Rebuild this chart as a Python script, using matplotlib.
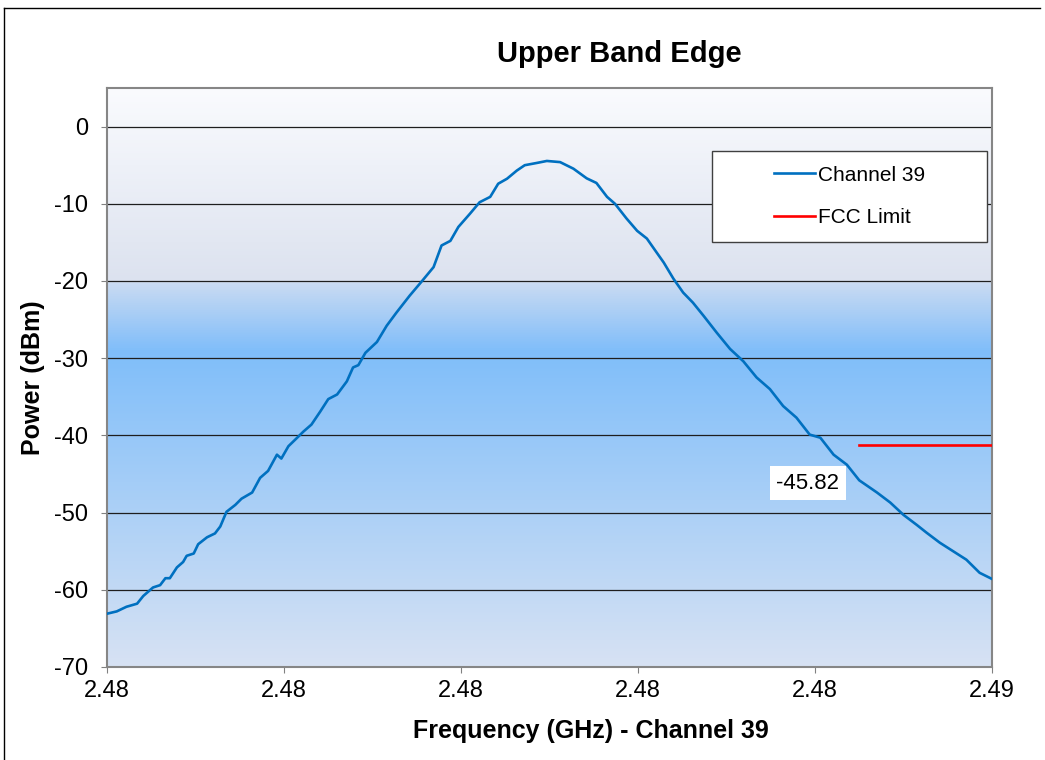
import numpy as np
import matplotlib
matplotlib.use("Agg")
import matplotlib.pyplot as plt
from matplotlib.colors import LinearSegmentedColormap
from matplotlib.patches import Rectangle
from matplotlib.lines import Line2D

plt.rcParams['font.family'] = ['Liberation Sans', 'DejaVu Sans']
plt.rcParams['axes.unicode_minus'] = False

# spectrum trace (GHz, dBm)
freq_ghz = [2.47500, 2.47511, 2.47522, 2.47534, 2.47541, 2.47552, 2.47560, 2.47566,
            2.47571, 2.47579, 2.47586, 2.47590, 2.47598, 2.47603, 2.47613, 2.47622,
            2.47628, 2.47635, 2.47645, 2.47652, 2.47664, 2.47673, 2.47682, 2.47692,
            2.47697, 2.47705, 2.47714, 2.47722, 2.47731, 2.47741, 2.47750, 2.47760,
            2.47771, 2.47778, 2.47784, 2.47792, 2.47805, 2.47816, 2.47827, 2.47842,
            2.47856, 2.47869, 2.47878, 2.47888, 2.47897, 2.47910, 2.47921, 2.47933,
            2.47942, 2.47952, 2.47963, 2.47972, 2.47986, 2.47997, 2.48012, 2.48027,
            2.48042, 2.48053, 2.48065, 2.48074, 2.48087, 2.48099, 2.48110, 2.48121,
            2.48129, 2.48140, 2.48151, 2.48162, 2.48174, 2.48189, 2.48204, 2.48219,
            2.48234, 2.48249, 2.48264, 2.48279, 2.48294, 2.48306, 2.48321, 2.48336,
            2.48350, 2.48370, 2.48385, 2.48400, 2.48415, 2.48426, 2.48441, 2.48456,
            2.48471, 2.48486, 2.48500]
power_dbm = [-63.1, -62.8, -62.2, -61.8, -60.8, -59.7, -59.4, -58.5,
             -58.5, -57.1, -56.4, -55.6, -55.3, -54.1, -53.2, -52.7,
             -51.8, -49.9, -49.0, -48.2, -47.4, -45.5, -44.6, -42.5,
             -43.0, -41.4, -40.4, -39.5, -38.6, -36.9, -35.3, -34.7,
             -33.0, -31.2, -30.9, -29.3, -27.9, -25.8, -24.1, -21.9,
             -20.0, -18.2, -15.4, -14.8, -13.0, -11.3, -9.8, -9.1,
             -7.4, -6.75, -5.7, -5.0, -4.7, -4.45, -4.6, -5.45,
             -6.7, -7.3, -9.1, -10.0, -11.9, -13.5, -14.5, -16.3,
             -17.6, -19.7, -21.5, -22.8, -24.5, -26.7, -28.8, -30.4,
             -32.5, -34.0, -36.2, -37.7, -39.9, -40.3, -42.5, -43.8,
             -45.82, -47.4, -48.7, -50.3, -51.6, -52.6, -53.9, -55.0,
             -56.1, -57.8, -58.6]

fcc_freq = [2.4835, 2.4850]
fcc_power = [-41.2, -41.2]

marker_freq = 2.4835
marker_power = -45.82

x_ticks = [2.475, 2.477, 2.479, 2.481, 2.483, 2.485]
x_tick_labels = ["2.48", "2.48", "2.48", "2.48", "2.48", "2.49"]
y_ticks = [0, -10, -20, -30, -40, -50, -60, -70]

fig = plt.figure(figsize=(10.45, 7.6), dpi=100)
ax = fig.add_axes([0.1024, 0.1224, 0.8469, 0.7618])

xmin, xmax = 2.475, 2.485
ymin, ymax = -70, 5

# gradient plot background
stops = [(0.0, '#fafbfe'), (0.333, '#dce2ef'), (0.336, '#cadbf2'),
         (0.455, '#7fbdfa'), (0.47, '#82bffa'), (1.0, '#d7e2f3')]
cmap = LinearSegmentedColormap.from_list('bg', stops)
grad = np.linspace(0, 1, 512).reshape(-1, 1)
ax.imshow(grad, cmap=cmap, aspect='auto', extent=[xmin, xmax, ymin, ymax],
          origin='upper', zorder=0, interpolation='bilinear')

for yv in y_ticks[:-1]:
    ax.axhline(yv, color='#1e1e1e', lw=0.9, zorder=1)

ax.plot(freq_ghz, power_dbm, color='#0070c0', lw=1.9, label='Channel 39', zorder=3)
ax.plot(fcc_freq, fcc_power, color='#ff0000', lw=1.9, label='FCC Limit', zorder=3)

ax.annotate(f"{marker_power:.2f}", xy=(marker_freq, marker_power), xytext=(-37, -2),
            textcoords='offset points', ha='center', va='center', fontsize=16,
            bbox=dict(boxstyle='square,pad=0.28', fc='white', ec='none'), zorder=5)

ax.set_xlim(xmin, xmax)
ax.set_ylim(ymin, ymax)
ax.set_xticks(x_ticks)
ax.set_xticklabels(x_tick_labels)
ax.set_yticks(y_ticks)
ax.tick_params(axis='both', labelsize=17, length=4.5, color='#808080', direction='out')
ax.tick_params(axis='y', pad=9)
ax.tick_params(axis='x', pad=5)
for sp in ax.spines.values():
    sp.set_color('#868686')
    sp.set_linewidth(1.5)

# legend box
ax.add_patch(Rectangle((0.6836, 0.734), 0.3107, 0.157, transform=ax.transAxes,
                       fc='white', ec='#404040', lw=1, zorder=6))
ax.legend(loc='center', bbox_to_anchor=(0.839, 0.8126), frameon=False, fontsize=15,
          handlelength=2.0, handletextpad=0.15, labelspacing=1.15).set_zorder(7)

fig.text(0.593, 0.929, 'Upper Band Edge', ha='center', va='center',
         fontsize=21, fontweight='bold')
fig.text(0.565, 0.038, 'Frequency (GHz) - Channel 39', ha='center', va='center',
         fontsize=18, fontweight='bold')
fig.text(0.032, 0.503, 'Power (dBm)', ha='center', va='center', rotation=90,
         fontsize=18, fontweight='bold')

# chart area border
fig.add_artist(Line2D([0.004, 0.004], [0.0, 0.989], color='black', lw=1))
fig.add_artist(Line2D([0.004, 0.995], [0.989, 0.989], color='black', lw=1))

fig.savefig('out.png', dpi=100)
